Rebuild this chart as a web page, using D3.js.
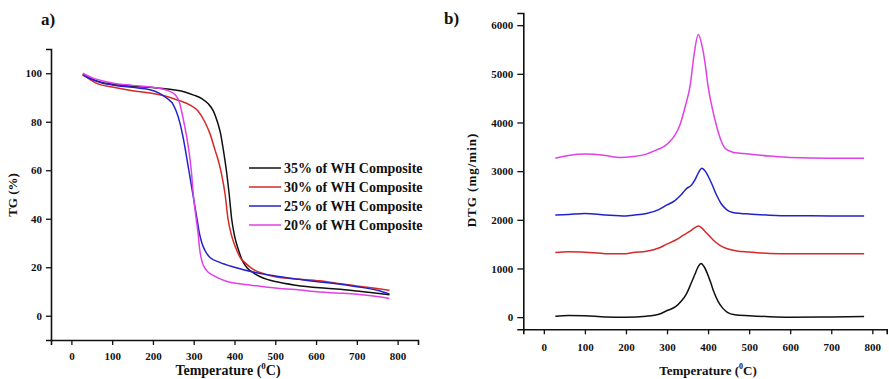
<!DOCTYPE html>
<html>
<head>
<meta charset="utf-8">
<script src="https://cdn.jsdelivr.net/npm/d3@7"></script>
<style>
  body { margin: 0; background: #fff; }
  svg { display: block; }
  text { font-family: "Liberation Serif", "Times New Roman", serif; font-weight: bold; fill: #111; }
</style>
</head>
<body>
<svg width="889" height="379"></svg>
<script>
// TG curves: [temperature, weight %]
var tg35 = [[28,99.6],[50,97.6],[75,96.2],[100,95.5],[130,94.9],[160,94.5],[200,94.1],[250,93.2],[280,92.2],[300,91],[320,89.5],[335,87.5],[348,84.5],[358,80],[366,75],[373,68],[380,60],[387,50],[393,40],[400,33],[410,27],[420,22.5],[433,19.4],[450,17.3],[462,16.2],[480,15],[500,14.1],[550,12.6],[609,11.5],[650,11],[700,10.2],[750,9.3],[780,8.7]];
var tg30 = [[28,99.5],[45,97.5],[65,95.6],[100,94.3],[150,92.8],[193,91.9],[230,90.6],[260,89],[290,87],[310,84.5],[327,80],[340,75],[352,68.5],[362,63],[370,57],[377,50],[384,40],[393,33],[403,28],[414,24],[425,22],[445,19.2],[470,17.4],[486,16.6],[500,16.1],[550,15.2],[609,14.4],[650,13.4],[700,12.3],[750,11.2],[780,10.5]];
var tg25 = [[28,99.3],[50,97.5],[75,96],[100,95.2],[150,94.2],[193,93.2],[215,91.8],[235,89.6],[250,87],[262,82],[274,73.6],[281,67],[288,60],[298,50],[308,40],[314,34],[320,30],[327.6,26.9],[340,24],[364,22],[400,20],[446,18],[500,16.4],[550,15.2],[609,13.9],[650,13.2],[700,12],[750,10.5],[780,9]];
var tg20 = [[28,100],[50,98.2],[75,96.9],[100,96],[150,95],[193,94.3],[220,93.6],[240,92.6],[255,91],[265,88],[272,83],[278,78],[283,73.6],[289,67],[294,60],[299,50],[306,40],[310,35],[315,26.9],[321,22],[330,19],[348,16.6],[380,14.2],[445,12.5],[500,11.4],[550,10.8],[609,9.8],[650,9.4],[700,8.9],[750,7.9],[780,7.1]];

// DTG curves: [temperature, mg/min]
var dtg35 = [[28,20],[60,35],[100,30],[150,5],[200,0],[250,20],[280,60],[299,130],[320,210],[335,330],[348,490],[358,680],[368,880],[376,1040],[383,1100],[390,1040],[398,900],[406,720],[414,520],[424,330],[435,190],[447,100],[465,50],[500,30],[550,10],[600,0],[700,5],[780,15]];
var dtg30 = [[28,1326],[60,1345],[100,1335],[150,1305],[200,1305],[217,1330],[250,1355],[280,1420],[299,1500],[320,1580],[340,1684],[355,1760],[368,1840],[377,1872],[385,1830],[395,1740],[413,1581],[430,1470],[445,1410],[470,1360],[500,1340],[550,1310],[600,1305],[700,1305],[780,1305]];
var dtg25 = [[28,2100],[60,2110],[100,2130],[150,2100],[200,2080],[217,2095],[250,2130],[280,2210],[299,2300],[320,2400],[335,2520],[348,2647],[358,2700],[368,2820],[376,2960],[385,3060],[393,3000],[400,2900],[410,2720],[420,2520],[432,2330],[445,2210],[460,2150],[480,2130],[500,2120],[550,2095],[600,2082],[700,2080],[780,2076]];
var dtg20 = [[28,3265],[60,3320],[100,3350],[150,3320],[185,3278],[218,3299],[245,3340],[275,3437],[295,3520],[307,3608],[320,3750],[331,3940],[345,4350],[356,4742],[366,5400],[376,5808],[386,5550],[393,5200],[400,4742],[410,4300],[421,3918],[432,3620],[442,3464],[460,3390],[478,3369],[500,3350],[550,3310],[600,3280],[700,3265],[780,3265]];

var legendLabels = ['35% of WH Composite', '30% of WH Composite', '25% of WH Composite', '20% of WH Composite'];
var colors = ['#111111', '#d42a2a', '#2222cc', '#e040e6'];
var xTicks = [0, 100, 200, 300, 400, 500, 600, 700, 800];
var tgTicks = [0, 20, 40, 60, 80, 100];
var dtgTicks = [0, 1000, 2000, 3000, 4000, 5000, 6000];

var svg = d3.select('svg');

function styleAxis(g) {
  g.select('.domain').attr('stroke', '#111').attr('stroke-width', 1.6);
  g.selectAll('.tick line').attr('stroke', '#111').attr('stroke-width', 1.3);
  g.selectAll('.tick text').style('font-size', '11px').attr('fill', '#111');
}

function xLabel(x, y, size) {
  var t = svg.append('text').attr('x', x).attr('y', y).attr('text-anchor', 'middle').style('font-size', size + 'px');
  t.append('tspan').text('Temperature (');
  t.append('tspan').attr('dy', -6).style('font-size', (size - 5) + 'px').text('0');
  t.append('tspan').attr('dy', 6).text('C)');
}

// ---- panel a) TG
var xA = d3.scaleLinear().domain([-50, 850]).range([51, 418]);
var yA = d3.scaleLinear().domain([-10, 110]).range([340, 49]);

svg.append('g').attr('transform', 'translate(0,340)')
  .call(d3.axisBottom(xA).tickValues(xTicks).tickSizeOuter(0).tickSize(5).tickPadding(7))
  .call(styleAxis);
svg.append('g').attr('transform', 'translate(51,0)')
  .call(d3.axisLeft(yA).tickValues(tgTicks).tickSizeOuter(0).tickSize(5).tickPadding(4))
  .call(styleAxis);

var lineA = d3.line().x(function (d) { return xA(d[0]); }).y(function (d) { return yA(d[1]); }).curve(d3.curveMonotoneX);
[tg35, tg30, tg25, tg20].forEach(function (s, i) {
  svg.append('path').datum(s).attr('d', lineA).attr('fill', 'none')
    .attr('stroke', colors[i]).attr('stroke-width', 1.5);
});

// legend
var leg = svg.append('g');
legendLabels.forEach(function (l, i) {
  var y = 168 + i * 19;
  leg.append('line').attr('x1', 249).attr('x2', 281).attr('y1', y).attr('y2', y)
    .attr('stroke', colors[i]).attr('stroke-width', 1.5);
  leg.append('text').attr('x', 284).attr('y', y + 5).style('font-size', '14px').text(l);
});

svg.append('text').attr('x', 41).attr('y', 25).style('font-size', '17px').text('a)');
svg.append('text').attr('transform', 'translate(17,195) rotate(-90)').attr('text-anchor', 'middle')
  .style('font-size', '13px').text('TG (%)');
xLabel(228, 375, 14);

// ---- panel b) DTG
var xB = d3.scaleLinear().domain([-50, 835]).range([523.3, 886.7]);
var yB = d3.scaleLinear().domain([-250, 6250]).range([329.3, 13]);

svg.append('g').attr('transform', 'translate(0,329.3)')
  .call(d3.axisBottom(xB).tickValues(xTicks).tickSizeOuter(0).tickSize(5).tickPadding(9))
  .call(styleAxis);
svg.append('g').attr('transform', 'translate(523.3,0)')
  .call(d3.axisLeft(yB).tickValues(dtgTicks).tickFormat(d3.format('d')).tickSizeOuter(0).tickSize(6).tickPadding(4))
  .call(styleAxis);

var lineB = d3.line().x(function (d) { return xB(d[0]); }).y(function (d) { return yB(d[1]); }).curve(d3.curveMonotoneX);
[dtg35, dtg30, dtg25, dtg20].forEach(function (s, i) {
  svg.append('path').datum(s).attr('d', lineB).attr('fill', 'none')
    .attr('stroke', colors[i]).attr('stroke-width', 1.5);
});

svg.append('text').attr('x', 444).attr('y', 24).style('font-size', '17px').text('b)');
svg.append('text').attr('transform', 'translate(476,180) rotate(-90)').attr('text-anchor', 'middle')
  .style('font-size', '13px').style('letter-spacing', '1px').text('DTG (mg/min)');
xLabel(708, 375, 13);
</script>
</body>
</html>
